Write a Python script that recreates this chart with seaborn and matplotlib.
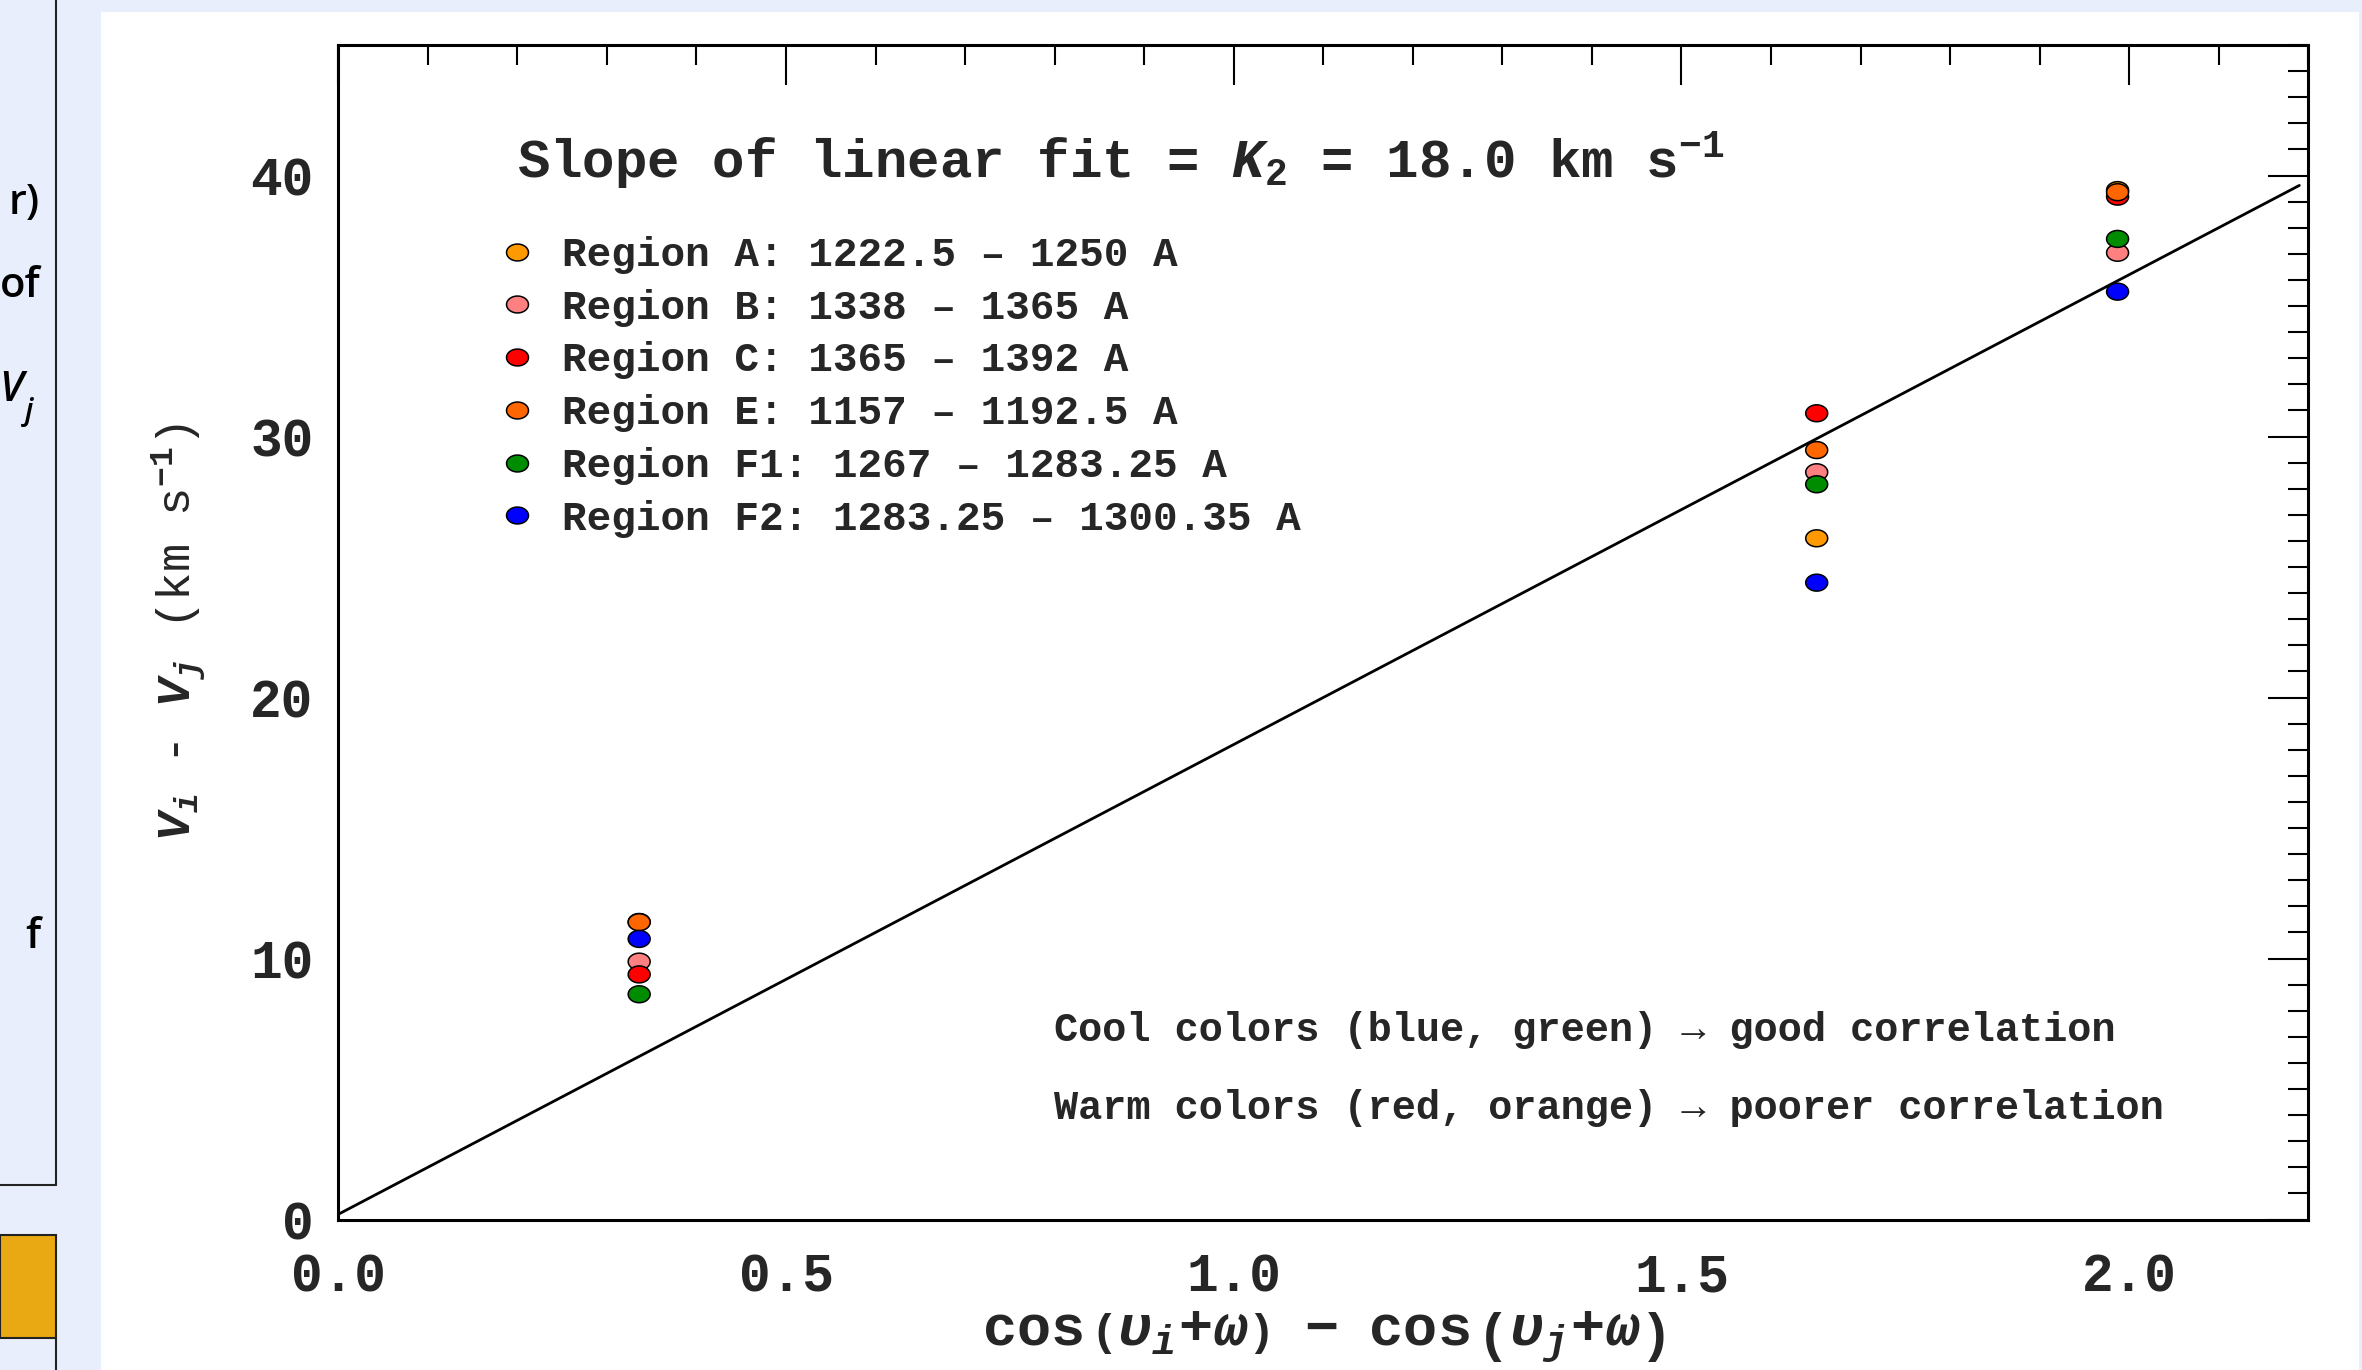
import numpy as np
import pandas as pd
import matplotlib.pyplot as plt
import seaborn as sns
from matplotlib.path import Path
from matplotlib.lines import Line2D
from matplotlib.patches import Rectangle
from matplotlib.ticker import MultipleLocator

# values
regions = ['Region A: 1222.5 – 1250 A',
           'Region B: 1338 – 1365 A',
           'Region C: 1365 – 1392 A',
           'Region E: 1157 – 1192.5 A',
           'Region F1: 1267 – 1283.25 A',
           'Region F2: 1283.25 – 1300.35 A']
colors = ['#FF9900', '#FF8080', '#FF0000', '#FF6600', '#008C00', '#0000FF']
x_groups = [0.336, 1.651, 1.987]
y_A = [11.40, 26.10, 39.44]
y_B = [9.88, 28.63, 37.04]
y_C = [9.39, 30.89, 39.19]
y_E = [11.39, 29.48, 39.36]
y_F1 = [8.63, 28.17, 37.57]
y_F2 = [10.75, 24.40, 35.55]
K2 = 18.0
intercept = 0.2
fit_x = np.array([0.0, 2.19])

rows = []
for name, ys in zip(regions, [y_A, y_B, y_C, y_E, y_F1, y_F2]):
    for xv, yv in zip(x_groups, ys):
        rows.append({'region': name, 'x': xv, 'y': yv})
df = pd.DataFrame(rows)
palette = dict(zip(regions, colors))

sns.set_style("white")
plt.rcParams['font.family'] = ['Liberation Mono', 'DejaVu Sans']
plt.rcParams['font.weight'] = 'bold'
plt.rcParams['mathtext.fontset'] = 'custom'
plt.rcParams['mathtext.rm'] = 'Liberation Mono:bold'
plt.rcParams['mathtext.it'] = 'Liberation Mono:italic:bold'
plt.rcParams['mathtext.bf'] = 'Liberation Mono:bold'

W, H = 2362, 1370
fig = plt.figure(figsize=(W / 100, H / 100), dpi=100)
fig.patch.set_facecolor('#E8EEFB')

# slide pieces around the plot
fig.patches.append(Rectangle((101 / W, 0), (2359 - 101) / W, 1 - 12 / H,
                             transform=fig.transFigure, facecolor='white',
                             edgecolor='none', zorder=-5))
fig.add_artist(Line2D([56 / W, 56 / W], [1, 1 - 1185 / H], color='#222222', lw=1.5))
fig.add_artist(Line2D([0, 56 / W], [1 - 1185 / H, 1 - 1185 / H], color='#222222', lw=1.5))
fig.patches.append(Rectangle((0, 1 - 1338 / H), 56 / W, (1338 - 1235) / H,
                             transform=fig.transFigure, facecolor='#E8A912',
                             edgecolor='#222222', lw=1.5, zorder=1))
fig.add_artist(Line2D([56 / W, 56 / W], [1 - 1338 / H, 0], color='#222222', lw=1.5))
slide_font = ['Open Sans', 'DejaVu Sans']
for txt, yy in [('r)', 203), ('of', 286), ('f', 937)]:
    fig.text(40 / W, 1 - yy / H, txt, ha='right', va='center', fontsize=30,
             family=slide_font, weight='semibold', color='black')
fig.text(23 / W, 1 - 390 / H, 'V', ha='right', va='center', fontsize=30,
         family=slide_font, weight='semibold', style='italic', color='black')
fig.text(25 / W, 1 - 412 / H, 'j', ha='left', va='center', fontsize=22,
         family=slide_font, weight='semibold', style='italic', color='black')

ax = fig.add_axes([338.3 / W, 1 - 1219.5 / H, 1970 / W, 1174.5 / H])
ax.set_zorder(5)
ax.set_facecolor('white')

ell_t = np.linspace(0, 2 * np.pi, 64)
ellipse = Path(np.column_stack([np.cos(ell_t), 0.77 * np.sin(ell_t)]), closed=True)

sns.lineplot(x=fit_x, y=K2 * fit_x + intercept, color='black', lw=2.0, ax=ax, zorder=2)
sns.scatterplot(data=df, x='x', y='y', hue='region', palette=palette, marker=ellipse,
                s=250, edgecolor='black', linewidth=1.1, legend=False, ax=ax, zorder=3)

ax.set_xlim(0, 2.2)
ax.set_ylim(0, 45)
ax.xaxis.set_major_locator(MultipleLocator(0.5))
ax.xaxis.set_minor_locator(MultipleLocator(0.1))
ax.yaxis.set_major_locator(MultipleLocator(10))
ax.yaxis.set_minor_locator(MultipleLocator(1))
ax.xaxis.set_major_formatter(plt.FuncFormatter(lambda v, p: f'{v:.1f}'))
ax.yaxis.set_major_formatter(plt.FuncFormatter(lambda v, p: f'{v:.0f}'))
ax.tick_params(which='both', direction='in', top=True, right=True, width=1.5, color='black')
ax.tick_params(which='major', length=28.8)
ax.tick_params(which='minor', length=14.4)
ax.tick_params(axis='x', which='major', labelsize=38, pad=24)
ax.tick_params(axis='y', which='major', labelsize=38, pad=18)
for sp in ax.spines.values():
    sp.set_visible(True)
    sp.set_color('black')
    sp.set_linewidth(2.2)

ax.set_xlabel(r'$\cos\left(\upsilon_i\!+\!\omega\right)\ \ -\ \ \cos\left(\upsilon_j\!+\!\omega\right)$',
              fontsize=41)
ax.xaxis.set_label_coords(0.5, -0.077)
ax.set_ylabel(r'$V_i$ - $V_j$ (km s$^{-1}$)', fontsize=34)
ax.yaxis.set_label_coords(-0.066, 0.5)

ax.text(0.0907, 0.8868, r'Slope of linear fit = $K_2$ = 18.0 km s$^{-1}$',
        transform=ax.transAxes, ha='left', va='baseline', fontsize=39)

handles = [Line2D([], [], ls='', marker=ellipse, markersize=15.8, markerfacecolor=c,
                  markeredgecolor='black', markeredgewidth=1.1) for c in colors]
ax.legend(handles, regions, loc='upper left', bbox_to_anchor=(0.0803, 0.8375),
          frameon=False, fontsize=29.5, handlelength=1.0, handletextpad=0.6,
          labelspacing=0.36, borderpad=0, borderaxespad=0)

ax.text(0.3633, 0.152, 'Cool colors (blue, green) → good correlation',
        transform=ax.transAxes, ha='left', va='baseline', fontsize=29)
ax.text(0.3633, 0.0855, 'Warm colors (red, orange) → poorer correlation',
        transform=ax.transAxes, ha='left', va='baseline', fontsize=29)

fig.savefig('out.png', dpi=100, facecolor=fig.get_facecolor())
